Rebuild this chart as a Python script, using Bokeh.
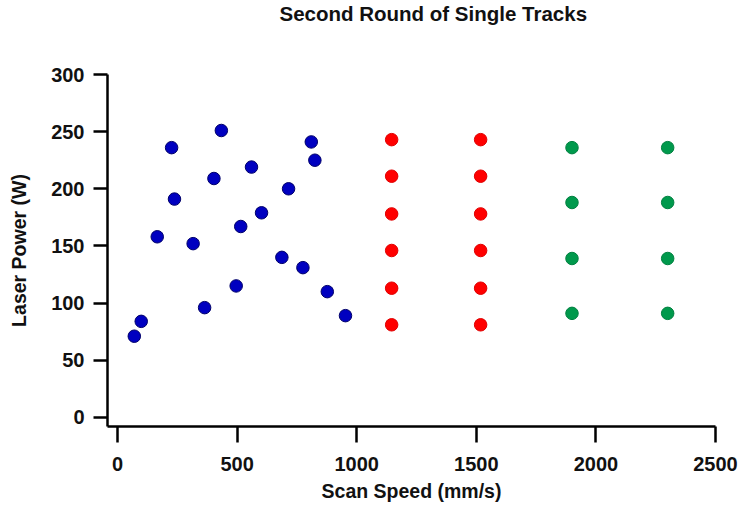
from bokeh.plotting import figure
from bokeh.models import Range1d, FixedTicker, Title
from bokeh.embed import file_html
from bokeh.resources import INLINE

# Data
blue_speed = [70, 99, 166, 226, 238, 316, 364, 403, 434, 496, 515, 560, 602, 687, 715, 775, 810, 825, 877, 953]
blue_power = [71, 84, 158, 236, 191, 152, 96, 209, 251, 115, 167, 219, 179, 140, 200, 131, 241, 225, 110, 89]

red_speed = [1146] * 6 + [1518] * 6
red_power = [81, 113, 146, 178, 211, 243] * 2

green_speed = [1900] * 4 + [2300] * 4
green_power = [91, 139, 188, 236] * 2

x_ticks = [0, 500, 1000, 1500, 2000, 2500]
y_ticks = [0, 50, 100, 150, 200, 250, 300]

TITLE = "Second Round of Single Tracks"
FONT = "Liberation Sans"

p = figure(width=740, height=506, output_backend="svg", toolbar_location=None,
           x_range=Range1d(-42, 2500), y_range=Range1d(-8, 300),
           min_border_left=107, min_border_right=25, min_border_top=0, min_border_bottom=80)
# real title (outermost in the top panel)
p.title = Title(text=TITLE, align="left", offset=172, vertical_align="top",
                text_font=FONT, text_font_size="20.5px", text_font_style="bold",
                text_color="#111111", standoff=3)
# blank spacer between the title and the plot frame
p.add_layout(Title(text=" ", text_font=FONT, text_font_size="20.5px", standoff=21), "above")

p.outline_line_color = None
p.grid.visible = False
p.background_fill_color = "white"
p.border_fill_color = "white"

for ax in (p.xaxis[0], p.yaxis[0]):
    ax.axis_line_width = 2.5
    ax.axis_line_color = "black"
    ax.major_tick_line_width = 2.5
    ax.major_tick_line_color = "black"
    ax.major_tick_in = 0
    ax.minor_tick_line_color = None
    ax.major_label_text_font = FONT
    ax.major_label_text_font_size = "20px"
    ax.major_label_text_font_style = "bold"
    ax.major_label_text_color = "#111111"
    ax.axis_label_text_font = FONT
    ax.axis_label_text_font_size = "19.5px"
    ax.axis_label_text_font_style = "bold"
    ax.axis_label_text_color = "#111111"

p.xaxis.ticker = FixedTicker(ticks=x_ticks)
p.yaxis.ticker = FixedTicker(ticks=y_ticks)
p.xaxis.major_tick_out = 16
p.yaxis.major_tick_out = 14
p.xaxis.major_label_standoff = 14
p.yaxis.major_label_standoff = 9
p.xaxis.axis_label = "Scan Speed (mm/s)"
p.yaxis.axis_label = "Laser Power (W)"
p.xaxis.axis_label_standoff = 6
p.yaxis.axis_label_standoff = 18

p.scatter(blue_speed, blue_power, size=12.5, fill_color="#0000C0", line_color="#00006A", line_width=1)
p.scatter(red_speed, red_power, size=12.5, fill_color="#FF0000", line_color="#E00000", line_width=1)
p.scatter(green_speed, green_power, size=12.5, fill_color="#00994C", line_color="#008040", line_width=1)

open("out.html", "w").write(file_html(p, INLINE))
